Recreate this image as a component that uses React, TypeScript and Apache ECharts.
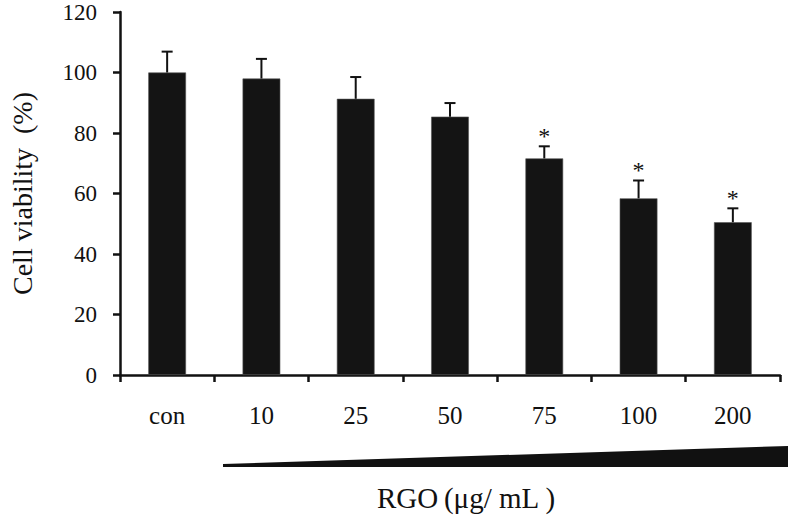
import React, { useEffect, useRef } from "react";
import * as echarts from "echarts";

const categories = ["con", "10", "25", "50", "75", "100", "200"];
const viability = [100, 98, 91.3, 85.4, 71.6, 58.4, 50.5];
const errorTop = [106.9, 104.5, 98.5, 89.9, 75.6, 64.3, 55.1];
const significant = [false, false, false, false, true, true, true];
const yTicks = [0, 20, 40, 60, 80, 100, 120];

const FONT = "'Liberation Serif', 'Times New Roman', serif";

export default function App() {
  const ref = useRef<HTMLDivElement>(null);
  useEffect(() => {
    if (!ref.current) return;
    const chart = echarts.init(ref.current, null, { renderer: "svg" });
    const errData = categories.map((_, i) => [i, viability[i], errorTop[i], significant[i] ? 1 : 0]);
    chart.setOption({
      animation: false,
      backgroundColor: "#fff",
      grid: { left: 120, right: 8, top: 12, bottom: 148, containLabel: false, outerBoundsMode: "none" },
      xAxis: {
        type: "category",
        data: categories,
        axisLine: { lineStyle: { color: "#111", width: 2.5 } },
        axisTick: { show: true, length: 7, lineStyle: { color: "#111", width: 2.5 }, alignWithLabel: false },
        axisLabel: { color: "#111", fontFamily: FONT, fontSize: 25, margin: 28 },
        splitLine: { show: false },
      },
      yAxis: {
        type: "value",
        min: yTicks[0],
        max: yTicks[yTicks.length - 1],
        interval: 20,
        axisLine: { show: true, lineStyle: { color: "#111", width: 2.5 } },
        axisTick: { show: true, length: 7, inside: false, lineStyle: { color: "#111", width: 2.5 } },
        axisLabel: { color: "#111", fontFamily: FONT, fontSize: 23, margin: 23 },
        splitLine: { show: false },
        name: "Cell viability\u2002(%)",
        nameLocation: "middle",
        nameGap: 84,
        nameRotate: 90,
        nameTextStyle: { color: "#111", fontFamily: FONT, fontSize: 28 },
      },
      graphic: [
        {
          type: "polygon",
          shape: { points: [[223, 464], [788, 446], [788, 467], [223, 467]] },
          style: { fill: "#111" },
        },
        {
          type: "text",
          x: 466,
          y: 498,
          style: {
            text: "RGO\u2009(μg/ mL )",
            font: `29px ${FONT}`,
            fill: "#111",
            textAlign: "center",
            textVerticalAlign: "middle",
          },
        },
      ],
      series: [
        {
          type: "bar",
          data: viability,
          barWidth: "40%",
          itemStyle: { color: "#141414", borderColor: "#555", borderWidth: 0.6 },
        },
        {
          type: "custom",
          data: errData,
          encode: { x: 0, y: 2 },
          z: 5,
          renderItem: (params: any, api: any) => {
            const i = api.value(0);
            const base = api.coord([i, api.value(1)]);
            const top = api.coord([i, api.value(2)]);
            const half = 5.5;
            const children: any[] = [
              { type: "line", shape: { x1: base[0], y1: base[1], x2: top[0], y2: top[1] }, style: { stroke: "#111", lineWidth: 2 } },
              { type: "line", shape: { x1: top[0] - half, y1: top[1], x2: top[0] + half, y2: top[1] }, style: { stroke: "#111", lineWidth: 2 } },
            ];
            if (api.value(3) === 1) {
              children.push({
                type: "text",
                x: top[0],
                y: top[1] - 10,
                style: { text: "*", font: `24px ${FONT}`, fill: "#111", textAlign: "center", textVerticalAlign: "middle" },
              });
            }
            return { type: "group", children };
          },
        },
      ],
    });
    return () => chart.dispose();
  }, []);
  return <div ref={ref} style={{ width: 788, height: 523, position: "absolute", left: 0, top: 0 }} />;
}
